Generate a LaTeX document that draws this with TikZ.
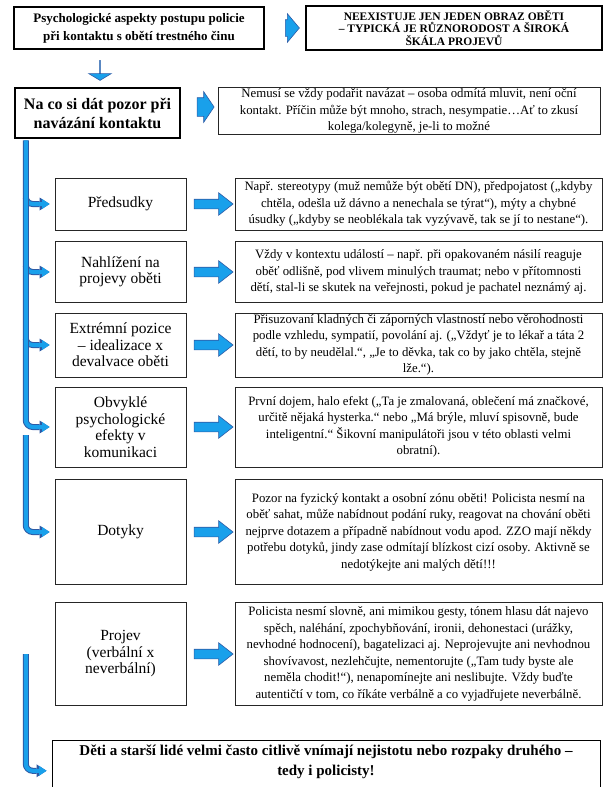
\documentclass[tikz,border=0pt]{standalone}
\usepackage{fontspec}
\setmainfont{Liberation Serif}
\usetikzlibrary{shapes.arrows,arrows.meta,calc,positioning}
\definecolor{arrfill}{RGB}{25,160,235}
\definecolor{arrline}{RGB}{45,90,165}

\tikzset{
  headbox/.style={draw, line width=2.5pt, align=center, inner sep=0pt, font=\bfseries\fontsize{13}{18}\selectfont},
  topicbox/.style={draw=black!85, line width=0.8pt, align=center, inner sep=0pt, minimum width=131pt, font=\fontsize{15.5}{16.5}\selectfont},
  notebox/.style={draw=black!85, line width=0.8pt, align=center, inner sep=0pt, minimum width=367pt, font=\fontsize{12.8}{16.5}\selectfont},
  blockarr/.style={single arrow, fill=arrfill, draw=arrline, line width=0.6pt, inner xsep=0pt, inner ysep=4.5pt, single arrow head extend=6.5pt, single arrow tip angle=76, minimum height=39pt},
  bent/.style={draw=arrfill, line width=4pt, rounded corners=7pt, -{Triangle[width=10pt,length=7.5pt,line width=0pt]},
    preaction={draw=arrline, line width=6pt, -{Triangle[width=13pt,length=10pt,line width=0pt]}}}
}

\begin{document}
\begin{tikzpicture}[x=1pt,y=-1pt]
  \useasboundingbox (0,0) rectangle (606,787);

  \node[headbox, minimum width=250pt, minimum height=42pt] (top) at (139,28) {Psychologické aspekty postupu policie\\při kontaktu s obětí trestného činu};
  \node[headbox, minimum width=296pt, minimum height=44pt, font=\bfseries\fontsize{11.5}{12.5}\selectfont] (vict) at (454,28) {NEEXISTUJE JEN JEDEN OBRAZ OBĚTI\\– TYPICKÁ JE RŮZNORODOST A ŠIROKÁ\\ŠKÁLA PROJEVŮ};
  \node[headbox, minimum width=165pt, minimum height=50pt, font=\bfseries\fontsize{16}{19}\selectfont] (attn) at (97.5,113) {Na co si dát pozor při\\navázání kontaktu};
  \node[notebox, minimum width=382pt, minimum height=47pt] (attnr) at (409,111) {Nemusí se vždy podařit navázat – osoba odmítá mluvit, není oční\\kontakt. Příčin může být mnoho, strach, nesympatie…Ať to zkusí\\kolega/kolegyně, je-li to možné};

  \node[blockarr, inner ysep=8pt, single arrow head extend=6pt, single arrow tip angle=100, minimum height=14pt, left=5pt of vict] (a0) {};
  \node[blockarr, shape border rotate=270, inner ysep=9pt, single arrow head extend=11pt, single arrow tip angle=118, minimum height=20pt, above=6pt of attn, xshift=2.5pt] (a1) {};
  \node[blockarr, inner ysep=9pt, single arrow head extend=6pt, single arrow tip angle=112, minimum height=17pt] (a2) at ($(attn.east)!.5!(attnr.west)+(3,-5)$) {};

  \node[topicbox, minimum height=52pt] (pred) at (120.5,204) {Předsudky};
  \node[notebox, minimum height=52pt] (predr) at (418.5,204) {Např. stereotypy (muž nemůže být obětí DN), předpojatost („kdyby\\chtěla, odešla už dávno a nenechala se týrat“), mýty a chybné\\úsudky („kdyby se neoblékala tak vyzývavě, tak se jí to nestane“).};
  \node[topicbox, minimum height=61pt] (nahl) at (120.5,272) {Nahlížení na\\projevy oběti};
  \node[notebox, minimum height=61pt] (nahlr) at (418.5,272) {Vždy v kontextu událostí – např. při opakovaném násilí reaguje\\oběť odlišně, pod vlivem minulých traumat; nebo v přítomnosti\\dětí, stal-li se skutek na veřejnosti, pokud je pachatel neznámý aj.};
  \node[topicbox, minimum height=64pt] (extr) at (120.5,345) {Extrémní pozice\\– idealizace x\\devalvace oběti};
  \node[notebox, minimum height=64pt] (extrr) at (418.5,345) {Přisuzovaní kladných či záporných vlastností nebo věrohodnosti\\podle vzhledu, sympatií, povolání aj. („Vždyť je to lékař a táta 2\\dětí, to by neudělal.“, „Je to děvka, tak co by jako chtěla, stejně\\lže.“).};
  \node[topicbox, minimum height=80pt] (obvy) at (120.5,427) {Obvyklé\\psychologické\\efekty v\\komunikaci};
  \node[notebox, minimum height=80pt] (obvyr) at (418.5,427) {První dojem, halo efekt („Ta je zmalovaná, oblečení má značkové,\\určitě nějaká hysterka.“ nebo „Má brýle, mluví spisovně, bude\\inteligentní.“ Šikovní manipulátoři jsou v této oblasti velmi\\obratní).};
  \node[topicbox, minimum height=105pt] (doty) at (120.5,532) {Dotyky};
  \node[notebox, minimum height=105pt] (dotyr) at (418.5,532) {Pozor na fyzický kontakt a osobní zónu oběti! Policista nesmí na\\oběť sahat, může nabídnout podání ruky, reagovat na chování oběti\\nejprve dotazem a případně nabídnout vodu apod. ZZO mají někdy\\potřebu dotyků, jindy zase odmítají blízkost cizí osoby. Aktivně se\\nedotýkejte ani malých dětí!!!};
  \node[topicbox, minimum height=103pt] (proj) at (120.5,654) {Projev\\(verbální x\\neverbální)};
  \node[notebox, minimum height=103pt] (projr) at (418.5,654) {Policista nesmí slovně, ani mimikou gesty, tónem hlasu dát najevo\\spěch, naléhání, zpochybňování, ironii, dehonestaci (urážky,\\nevhodné hodnocení), bagatelizaci aj. Neprojevujte ani nevhodnou\\shovívavost, nezlehčujte, nementorujte („Tam tudy byste ale\\neměla chodit!“), nenapomínejte ani neslibujte. Vždy buďte\\autentičtí v tom, co říkáte verbálně a co vyjadřujete neverbálně.};
  \node[headbox, line width=1pt, anchor=north, minimum width=548pt, inner ysep=4pt, text depth=22pt, font=\bfseries\fontsize{15}{20}\selectfont] (deti) at (326,740) {Děti a starší lidé velmi často citlivě vnímají nejistotu nebo rozpaky druhého –\\tedy i policisty!};

  \node[blockarr] at ($(pred.east)!.5!(predr.west)$) {};
  \node[blockarr] at ($(nahl.east)!.5!(nahlr.west)$) {};
  \node[blockarr] at ($(extr.east)!.5!(extrr.west)$) {};
  \node[blockarr] at ($(obvy.east)!.5!(obvyr.west)$) {};
  \node[blockarr] at ($(doty.east)!.5!(dotyr.west)$) {};
  \node[blockarr] at ($(proj.east)!.5!(projr.west)$) {};

  \coordinate (bar) at ([xshift=12pt]attn.south west);
  \draw[bent] ([yshift=-1pt]bar) |- ([xshift=-5pt]pred.west);
  \draw[bent] ([yshift=6pt]bar |- pred.west) |- ([xshift=-5pt]nahl.west);
  \draw[bent] ([yshift=6pt]bar |- nahl.west) |- ([xshift=-5pt]extr.west);
  \draw[bent] ([yshift=6pt]bar |- extr.west) |- ([xshift=-5pt]obvy.west);
  \draw[bent] ([yshift=-8pt]bar |- obvy.west) |- ([xshift=-5pt]doty.west);
  \draw[bent] (bar |- proj.west) |- ([xshift=-5pt]deti.west);
\end{tikzpicture}
\end{document}
